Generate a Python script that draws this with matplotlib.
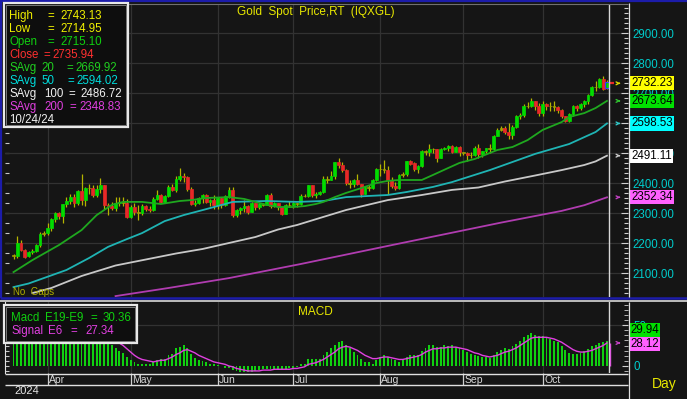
import numpy as np
import pandas as pd
import matplotlib
matplotlib.use("Agg")
import matplotlib.pyplot as plt
from matplotlib.ticker import MultipleLocator, FixedLocator, FormatStrFormatter
from matplotlib.transforms import blended_transform_factory
from matplotlib.patches import Rectangle
from matplotlib.lines import Line2D

plt.rcParams['font.family'] = ['Liberation Sans', 'DejaVu Sans']

# ---------------- data ----------------
dates = pd.bdate_range("2024-03-19", "2024-10-24")

opens = [2160, 2157, 2200, 2178, 2158, 2170, 2175, 2192, 2230, 2233, 2250, 2280, 2300, 2290, 2329, 2339, 2352, 2333, 2372, 2344,
         2383, 2383, 2361, 2379, 2392, 2327, 2322, 2316, 2332, 2337, 2335, 2286, 2320, 2303, 2301, 2324, 2314, 2309, 2346, 2360,
         2336, 2358, 2386, 2376, 2415, 2425, 2420, 2379, 2329, 2334, 2350, 2361, 2338, 2343, 2327, 2350, 2327, 2355, 2376, 2294,
         2310, 2316, 2324, 2303, 2333, 2319, 2329, 2328, 2360, 2322, 2334, 2319, 2298, 2327, 2326, 2332, 2330, 2356, 2356, 2392,
         2359, 2364, 2371, 2415, 2411, 2422, 2469, 2459, 2445, 2400, 2396, 2409, 2397, 2364, 2386, 2384, 2410, 2448, 2446, 2443,
         2410, 2390, 2382, 2427, 2431, 2472, 2465, 2447, 2456, 2507, 2503, 2514, 2512, 2485, 2512, 2518, 2524, 2504, 2520, 2503,
         2500, 2493, 2495, 2516, 2497, 2506, 2516, 2512, 2558, 2578, 2582, 2570, 2559, 2587, 2622, 2628, 2657, 2657, 2672, 2658,
         2634, 2662, 2657, 2656, 2653, 2644, 2622, 2608, 2631, 2656, 2649, 2662, 2674, 2692, 2721, 2719, 2748, 2715.10]
highs = [2163, 2222, 2210, 2180, 2175, 2180, 2197, 2236, 2240, 2266, 2285, 2305, 2305, 2331, 2354, 2365, 2365, 2378, 2431, 2386,
         2396, 2393, 2393, 2418, 2395, 2335, 2338, 2352, 2353, 2353, 2346, 2326, 2332, 2326, 2331, 2327, 2323, 2353, 2378, 2362,
         2360, 2393, 2397, 2422, 2450, 2432, 2422, 2386, 2343, 2353, 2364, 2364, 2347, 2360, 2354, 2352, 2360, 2388, 2387, 2313,
         2320, 2342, 2327, 2336, 2335, 2335, 2332, 2365, 2368, 2338, 2335, 2321, 2330, 2339, 2337, 2335, 2365, 2363, 2393, 2393,
         2370, 2375, 2425, 2424, 2440, 2470, 2483, 2470, 2446, 2410, 2412, 2431, 2398, 2390, 2392, 2413, 2451, 2462, 2477, 2456,
         2420, 2404, 2430, 2438, 2473, 2478, 2469, 2461, 2509, 2510, 2531, 2518, 2513, 2518, 2520, 2528, 2527, 2524, 2525, 2505,
         2503, 2503, 2523, 2529, 2507, 2517, 2529, 2560, 2582, 2590, 2589, 2600, 2593, 2626, 2632, 2664, 2670, 2685, 2675, 2667,
         2673, 2666, 2670, 2672, 2658, 2647, 2625, 2635, 2660, 2659, 2668, 2677, 2696, 2722, 2740, 2749, 2758, 2743.13]
lows = [2146, 2150, 2175, 2150, 2152, 2163, 2170, 2188, 2225, 2228, 2240, 2270, 2280, 2268, 2320, 2330, 2319, 2328, 2326, 2324,
        2365, 2355, 2355, 2368, 2315, 2292, 2310, 2308, 2325, 2325, 2285, 2285, 2293, 2277, 2292, 2307, 2303, 2306, 2343, 2334,
        2332, 2352, 2373, 2369, 2406, 2405, 2373, 2326, 2325, 2330, 2334, 2334, 2323, 2314, 2315, 2317, 2325, 2351, 2286, 2286,
        2298, 2303, 2296, 2302, 2311, 2313, 2323, 2327, 2316, 2319, 2309, 2293, 2297, 2319, 2318, 2319, 2326, 2353, 2353, 2353,
        2351, 2360, 2367, 2399, 2409, 2412, 2451, 2436, 2394, 2384, 2388, 2394, 2353, 2362, 2375, 2380, 2407, 2425, 2433, 2364,
        2385, 2377, 2381, 2420, 2424, 2460, 2440, 2432, 2455, 2493, 2491, 2500, 2470, 2483, 2509, 2506, 2500, 2502, 2491, 2492,
        2472, 2484, 2490, 2485, 2487, 2500, 2500, 2510, 2556, 2573, 2565, 2547, 2546, 2585, 2614, 2621, 2650, 2654, 2644, 2625,
        2624, 2645, 2640, 2640, 2634, 2617, 2604, 2603, 2625, 2640, 2645, 2655, 2665, 2691, 2708, 2716, 2709, 2714.95]
closes = [2157, 2200, 2178, 2155, 2170, 2175, 2192, 2230, 2233, 2250, 2280, 2300, 2290, 2329, 2339, 2352, 2333, 2372, 2344, 2383,
          2383, 2361, 2379, 2392, 2327, 2322, 2316, 2332, 2337, 2335, 2286, 2320, 2303, 2301, 2324, 2314, 2309, 2346, 2360, 2336,
          2358, 2386, 2376, 2415, 2425, 2420, 2379, 2329, 2334, 2350, 2361, 2338, 2343, 2327, 2350, 2327, 2355, 2376, 2294, 2310,
          2316, 2324, 2303, 2333, 2319, 2329, 2328, 2360, 2322, 2334, 2319, 2298, 2327, 2326, 2332, 2330, 2356, 2356, 2392, 2359,
          2364, 2371, 2415, 2411, 2422, 2469, 2459, 2445, 2400, 2396, 2409, 2397, 2364, 2386, 2384, 2410, 2448, 2446, 2443, 2410,
          2390, 2382, 2427, 2431, 2472, 2465, 2447, 2456, 2507, 2503, 2514, 2512, 2485, 2512, 2518, 2524, 2504, 2520, 2503, 2500,
          2493, 2495, 2516, 2497, 2506, 2516, 2512, 2558, 2578, 2582, 2570, 2559, 2587, 2622, 2628, 2657, 2657, 2672, 2658, 2634,
          2662, 2657, 2656, 2653, 2644, 2622, 2608, 2631, 2656, 2649, 2662, 2674, 2692, 2721, 2719, 2748, 2714, 2735.94]

# moving averages, read at sample bars (bar index, value)
sma20_idx = [0, 5, 12, 18, 22, 26, 29, 34, 39, 44, 47, 51, 57, 61, 64, 67, 70, 74, 77, 80, 82, 85, 88, 92, 96, 99, 102,
             108, 111, 115, 118, 122, 128, 132, 136, 140, 145, 147, 151, 154, 157]
sma20_val = [2103, 2143, 2193, 2243, 2293, 2327, 2337, 2337, 2330, 2340, 2343, 2350, 2353, 2347, 2337, 2327, 2320, 2320,
             2323, 2330, 2337, 2353, 2367, 2383, 2400, 2407, 2410, 2410, 2427, 2450, 2467, 2480, 2510, 2520, 2543, 2577,
             2603, 2620, 2633, 2650, 2673.64]
sma50_idx = [0, 4, 8, 14, 20, 25, 30, 34, 40, 45, 51, 58, 67, 75, 82, 88, 99, 104, 111, 116, 122, 126, 132, 138, 147, 154, 157]
sma50_val = [2053, 2065, 2083, 2110, 2150, 2187, 2213, 2233, 2273, 2293, 2313, 2337, 2340, 2337, 2340, 2353, 2360, 2370,
             2387, 2403, 2427, 2443, 2470, 2497, 2530, 2570, 2598.53]
sma100_idx = [5, 10, 18, 27, 35, 43, 50, 57, 64, 70, 75, 82, 88, 99, 108, 116, 123, 130, 138, 145, 151, 154, 157]
sma100_val = [2033, 2050, 2090, 2125, 2145, 2165, 2180, 2200, 2220, 2245, 2260, 2287, 2310, 2343, 2360, 2377, 2385, 2405,
              2425, 2443, 2460, 2472, 2491.11]
sma200_idx = [27, 41, 57, 76, 102, 129, 145, 151, 157]
sma200_val = [2023, 2050, 2083, 2130, 2198, 2268, 2307, 2326, 2352.34]

macd_vals = [30, 31, 33, 31, 29, 28, 28, 31, 34,
             37, 41, 45, 46, 49, 51, 53, 52, 54, 53, 53, 52, 49, 48, 47,
             40, 31,
             25.6, 21.5, 18, 15.4, 11, 7, 5, 3, 2.4, 3, 3,
             5, 7, 8.5, 9, 13, 15, 21.5, 23.6, 25.6, 22, 15, 10, 7, 6, 5, 3, 2, 1, 0.5,
             -2, -3, -5, -6, -7, -7, -7, -7, -6, -5, -4, -4, -4, -4, -4, -4, -4, -3, -2, -1,
             2, 3, 8.5, 8.5, 9, 9, 14, 17.5, 21.5, 25.6, 29, 30, 25.6, 21.5, 17.5, 13.4, 8.5, 5.3, 5, 3, 7,
             11.4, 13.4, 11, 9, 7, 5, 7, 11, 14, 13, 14, 18, 21.5, 25.6, 26, 23.6, 23.6, 25.6, 25, 25.6, 23.6, 21.5,
             20, 17, 15, 14, 12, 11, 11, 10, 13, 17, 20, 22, 21, 24, 27, 31, 35, 38, 40, 38,
             36, 36, 35, 33, 31, 29, 25, 20, 16, 15, 15, 16, 18, 21, 24, 26, 28, 29, 29.94]
signal_vals = [32, 32, 32, 31, 30, 29, 29, 30, 31,
               32, 35, 38, 40, 43, 45, 48, 49, 50, 51, 51, 51, 51, 50, 49,
               46, 42, 37, 33, 28, 25, 21,
               17, 13, 10, 8, 7, 6,
               5, 6, 7, 7, 9, 11, 14, 16, 19, 20, 18, 16, 13, 11, 9, 7, 5,
               4, 3, 2, 0, -1, -3, -4, -5, -6, -6, -6, -6, -5, -5, -5, -4, -4, -4, -4, -4,
               -3, -3, -2, -1, 2, 3, 4, 6, 8, 11, 14, 17, 21, 23, 24, 23, 21, 19, 16, 13, 11, 9, 9,
               10, 11, 11, 10, 9, 8, 8, 9, 10, 11, 12, 14, 17, 19, 21, 21, 22, 22, 23, 23, 23, 22,
               21, 20, 18, 16, 15, 13, 12, 11, 12, 13, 15, 17, 18, 20, 22, 25, 28, 31, 34, 35, 35,
               35, 35, 34, 33, 31, 29, 26, 23, 20, 18, 17, 17, 18, 19, 21, 23, 25, 28.12]

price_ticks = [2100, 2200, 2300, 2400, 2500, 2600, 2700, 2800, 2900]
macd_ticks = [0, 50]

last_price_tag = 2732.23
ma_tags = [2673.64, 2598.53, 2491.11, 2352.34]
macd_tag = 29.94
signal_tag = 28.12

ohlc_names = ["High", "Low", "Open", "Close"]
ohlc_values = [2743.13, 2714.95, 2715.10, 2735.94]
sma_periods = [20, 50, 100, 200]
sma_legend_values = [2669.92, 2594.02, 2486.72, 2348.83]
legend_date = "10/24/24"
macd_legend_value = 30.36
signal_legend_value = 27.34

n = len(dates)
assert all(len(a) == n for a in (opens, highs, lows, closes, macd_vals, signal_vals))

# ---------------- style ----------------
BG = '#151515'
GRID = '#323232'
GREEN = '#00dc00'
RED = '#e82828'
OLIVE = '#a0a000'
WICK = '#b4b400'
YELLOW = '#e8e800'
CYAN = '#00cccc'
MA20 = '#1fa81f'
MA50 = '#1fb4b4'
MA100 = '#c8c8c8'
MA200 = '#b03cb0'
MAG = '#e040e0'
BLUE = '#1c1caa'
WHITE = '#e0e0e0'

W, H = 687, 399
fig = plt.figure(figsize=(W / 100, H / 100), dpi=100, facecolor=BG)


def box(l, t, r, b):
    return [l / W, 1 - b / H, (r - l) / W, (b - t) / H]


X0, DX = 13.5, 3.78


def xi(px):
    return (px - X0) / DX


def py2p(py):
    return 2900 - (py - 33) / 0.3


def py2m(py):
    return (366 - py) / 0.82


x = np.arange(n)
O = np.array(opens, float); Hh = np.array(highs, float); L = np.array(lows, float); C = np.array(closes, float)
month_idx = [i for i in range(1, n) if dates[i].month != dates[i - 1].month]
month_lab = [dates[i].strftime('%b') for i in month_idx]

# ---------------- main price panel ----------------
ax = fig.add_axes(box(5, 4, 628, 297))
ax.set_facecolor(BG)
ax.set_xlim(xi(5), xi(628))
ax.set_ylim(py2p(297), py2p(4))
for s in ax.spines.values():
    s.set_visible(False)
ax.xaxis.set_major_locator(FixedLocator(month_idx))
ax.tick_params(axis='x', bottom=False, labelbottom=False)
ax.yaxis.set_major_locator(FixedLocator(price_ticks))
ax.yaxis.set_minor_locator(MultipleLocator(100 / 6))
ax.yaxis.set_major_formatter(FormatStrFormatter('%.2f'))
ax.yaxis.tick_right()
ax.tick_params(axis='y', which='major', direction='in', length=5, width=0.8, color='#d0d0d0',
               labelcolor=CYAN, labelsize=8.3, pad=3)
ax.tick_params(axis='y', which='minor', direction='in', length=3, width=0.8, color='#d0d0d0')
ax.grid(True, which='major', color=GRID, lw=0.9)
ax.set_axisbelow(True)
sec = ax.secondary_yaxis('left')
sec.yaxis.set_major_locator(MultipleLocator(100 / 3))
sec.tick_params(axis='y', direction='in', length=3, color='#c8c8c8', labelleft=False)
sec.spines['left'].set_visible(False)

# candles
body_col = np.where(np.abs(C - O) <= 4, OLIVE, np.where(C > O, GREEN, RED))
ax.vlines(x, L, Hh, colors=WICK, lw=0.9, zorder=2)
ax.bar(x, np.abs(C - O), bottom=np.minimum(O, C), width=0.76, color=body_col,
       edgecolor=body_col, linewidth=0.5, zorder=3)
ax.bar([x[-1]], [abs(C[-1] - O[-1])], bottom=[min(C[-1], O[-1])], width=0.9,
       color='none', edgecolor='#3a3aff', linewidth=0.8, zorder=4)

# moving averages
ax.plot(sma200_idx, sma200_val, color=MA200, lw=1.3, zorder=4)
ax.plot(sma100_idx, sma100_val, color=MA100, lw=1.3, zorder=4)
ax.plot(sma50_idx, sma50_val, color=MA50, lw=1.3, zorder=4)
ax.plot(sma20_idx, sma20_val, color=MA20, lw=1.3, zorder=4)

# current price dash and marker line
ax.hlines(last_price_tag, x[-1] + 0.9, x[-1] + 1.8, color=RED, lw=1.6, zorder=5)
ax.axvline(x[-1] + 0.6, color='#d8d8d8', lw=1.0, zorder=5)

# right tags with small arrows
tr = blended_transform_factory(ax.transAxes, ax.transData)
tag_specs = [(last_price_tag, '#ffff00', '#d8d800'), (ma_tags[0], '#00e000', '#30c030'),
             (ma_tags[1], '#00ffff', '#30c8c8'), (ma_tags[2], '#ffffff', '#c8c8c8'),
             (ma_tags[3], '#ff60ff', '#c040c0')]
for val, fc, ac in tag_specs:
    ax.text(1.0048, val, f"{val:.2f}", transform=tr, ha='left', va='center', fontsize=8.3,
            color='black', clip_on=False, zorder=10,
            bbox=dict(boxstyle='square,pad=0.1', fc=fc, ec='none'))
    ax.annotate('', xy=(x[-1] + 4.3, val), xytext=(x[-1] + 2.5, val),
                arrowprops=dict(arrowstyle='->', color=ac, lw=1.0, mutation_scale=5), zorder=6)

ax.text(316 / W, py2p(12), "Gold  Spot  Price,RT  (IQXGL)",
        transform=blended_transform_factory(fig.transFigure, ax.transData),
        ha='center', va='center', color=YELLOW, fontsize=8.5, zorder=10)
ax.text(xi(13), py2p(292), "No  Gaps", ha='left', va='center', color='#b0b000', fontsize=7, zorder=10)

# ---------------- MACD panel ----------------
axm = fig.add_axes(box(5, 302, 628, 373))
axm.set_facecolor(BG)
axm.set_xlim(xi(5), xi(628))
axm.set_ylim(py2m(373), py2m(302))
for k, s in axm.spines.items():
    s.set_visible(k == 'left')
axm.spines['left'].set_color(WHITE)
axm.xaxis.set_major_locator(FixedLocator(month_idx))
axm.tick_params(axis='x', bottom=False, labelbottom=False)
axm.grid(True, axis='x', which='major', color=GRID, lw=0.9)
axm.set_axisbelow(True)
axm.yaxis.tick_right()
axm.yaxis.set_major_locator(FixedLocator(macd_ticks))
axm.yaxis.set_minor_locator(MultipleLocator(50 / 8))
axm.yaxis.set_major_formatter(FormatStrFormatter('%d'))
axm.tick_params(axis='y', which='major', direction='in', length=4, color='#d0d0d0',
                labelcolor=CYAN, labelsize=8.3, pad=4)
axm.tick_params(axis='y', which='minor', direction='in', length=3, color='#d0d0d0')
axm.axhline(50, color=GRID, lw=0.9, zorder=0)
secm = axm.secondary_yaxis('left')
secm.yaxis.set_major_locator(MultipleLocator(50 / 8))
secm.tick_params(axis='y', direction='in', length=3, color='#c8c8c8', labelleft=False)
secm.spines['left'].set_visible(False)

axm.bar(x, macd_vals, width=0.5, color='#10d010', zorder=3)
axm.plot(x, signal_vals, color=MAG, lw=1.0, zorder=4)
axm.vlines(x[-1] + 0.9, 0, signal_vals[-1], color=MAG, lw=1.0, zorder=4)
axm.axvline(x[-1] + 0.6, color='#d8d8d8', lw=1.0, zorder=5)
axm.text(315 / W, py2m(312), "MACD", transform=blended_transform_factory(fig.transFigure, axm.transData),
         ha='center', va='center', color=YELLOW, fontsize=8.5, zorder=10)

trm = blended_transform_factory(axm.transAxes, axm.transData)
axm.annotate(f"{macd_tag:.2f}", xy=(1.0035, macd_tag), xycoords=trm, xytext=(0, 8.2), textcoords='offset points',
             ha='left', va='center', fontsize=8.3, color='black', annotation_clip=False, zorder=10,
             bbox=dict(boxstyle='square,pad=0.1', fc='#00e000', ec='none'))
axm.annotate(f"{signal_tag:.2f}", xy=(1.0035, signal_tag), xycoords=trm, xytext=(0, -0.8), textcoords='offset points',
             ha='left', va='center', fontsize=8.3, color='black', annotation_clip=False, zorder=11,
             bbox=dict(boxstyle='square,pad=0.1', fc='#ff60ff', ec='none'))
axm.annotate('', xy=(x[-1] + 4.3, signal_tag), xytext=(x[-1] + 2.5, signal_tag),
             arrowprops=dict(arrowstyle='->', color='#c040c0', lw=1.0, mutation_scale=5), zorder=6)

# ---------------- date strip ----------------
axd = fig.add_axes(box(5, 373, 628, 385))
axd.set_facecolor(BG)
axd.set_xlim(xi(5), xi(628))
axd.set_ylim(0, 1)
axd.axis('off')
axd.vlines(month_idx, 0, 1, color='#d0d0d0', lw=0.9)
for i, lab in zip(month_idx, month_lab):
    axd.text(i + 0.35, 0.45, lab, ha='left', va='center', fontsize=7.5, color='#d8d8d8')

# ---------------- frame lines ----------------
def fline(xs, ys, color, lw):
    fig.add_artist(Line2D([v / W for v in xs], [1 - v / H for v in ys], transform=fig.transFigure,
                          color=color, lw=lw, solid_capstyle='butt'))

fline([0, W], [1, 1], BLUE, 1.6)
fline([1, 1], [0, 298], BLUE, 1.6)
fline([0, W], [297.5, 297.5], BLUE, 1.8)
fline([0, W], [300.5, 300.5], '#bcbcbc', 1.4)
fline([5, 628], [3.5, 3.5], '#707070', 0.8)
fline([628.5, 628.5], [3, 297], '#e0e0e0', 0.9)
fline([628.5, 628.5], [302, 399], '#e0e0e0', 0.9)
fline([5, 628], [373.5, 373.5], '#e0e0e0', 1.0)
fline([5, 628], [384.5, 384.5], '#e0e0e0', 1.0)

fig.text(14 / W, 1 - 391 / H, "2024", ha='left', va='center', fontsize=8, color='#e6e6e6')
fig.text(652 / W, 1 - 384 / H, "Day", ha='left', va='center', fontsize=10, color=YELLOW)

# ---------------- legend boxes ----------------
def panel_box(l, t, r, b):
    fig.add_artist(Rectangle((l / W, 1 - b / H), (r - l) / W, (b - t) / H, transform=fig.transFigure,
                             fc='#0e0e0e', ec='#e8e8e8', lw=1.6, zorder=20))
    fig.add_artist(Rectangle(((l + 2) / W, 1 - (b - 2) / H), (r - l - 4) / W, (b - t - 4) / H,
                             transform=fig.transFigure, fc='none', ec='#7a7a7a', lw=0.7, zorder=21))

panel_box(4, 3, 128, 127)
panel_box(4, 305, 137, 343)


def ftxt(px, py, s, color):
    fig.text(px / W, 1 - py / H, s, ha='left', va='center', fontsize=8.3, color=color, zorder=30)

ohlc_cols = ['#f0f000', '#f0f000', '#10d010', '#ff3030']
eq_x = [47, 47, 47, 43]
val_x = [60, 60, 60, 52]
for k in range(4):
    yy = 16 + 13 * k
    ftxt(9, yy, ohlc_names[k], ohlc_cols[k])
    ftxt(eq_x[k], yy, "=", ohlc_cols[k])
    ftxt(val_x[k], yy, f"{ohlc_values[k]:.2f}", ohlc_cols[k])

sma_cols = ['#20d020', '#00dcdc', '#f0f0f0', '#e040e0']
per_x = [41, 41, 44, 44]
seq_x = [66, 67, 68, 69]
sval_x = [75, 76, 80, 79]
for k in range(4):
    yy = 68 + 13 * k
    ftxt(9, yy, "SAvg", sma_cols[k])
    ftxt(per_x[k], yy, str(sma_periods[k]), sma_cols[k])
    ftxt(seq_x[k], yy, "=", sma_cols[k])
    ftxt(sval_x[k], yy, f"{sma_legend_values[k]:.2f}", sma_cols[k])
ftxt(9, 120, legend_date, '#f0f0f0')

ftxt(11, 318, "Macd", '#10d010')
ftxt(45, 318, "E19-E9", '#10d010')
ftxt(90, 318, "=", '#10d010')
ftxt(103, 318, f"{macd_legend_value:.2f}", '#10d010')
ftxt(11, 331, "Signal", '#e040e0')
ftxt(48, 331, "E6", '#e040e0')
ftxt(70, 331, "=", '#e040e0')
ftxt(85, 331, f"{signal_legend_value:.2f}", '#e040e0')

fig.savefig("out.png", dpi=100, facecolor=BG)
